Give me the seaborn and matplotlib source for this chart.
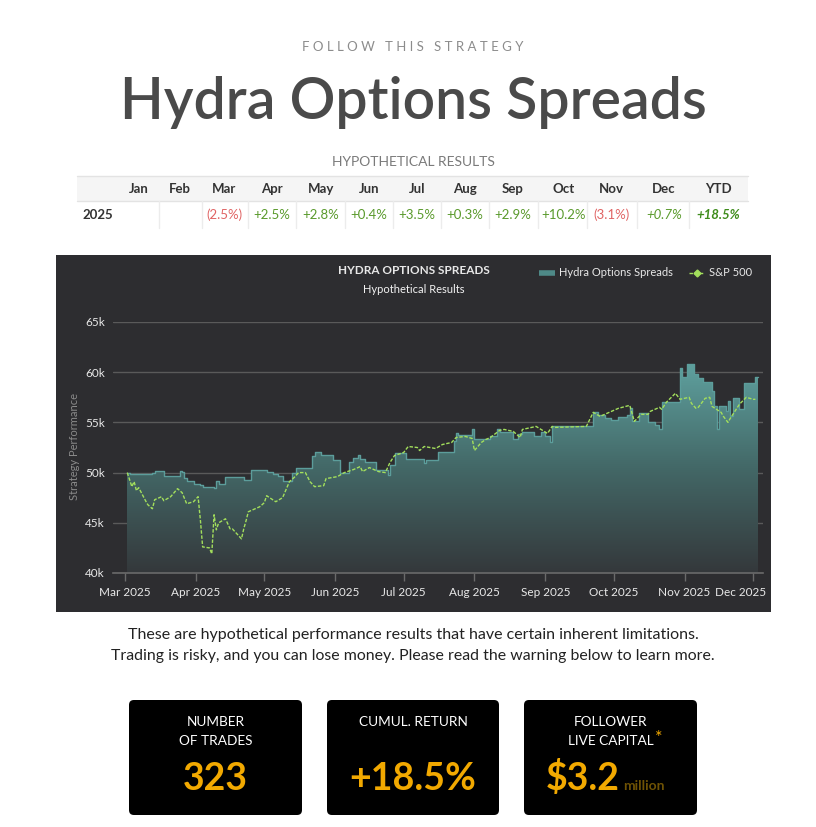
#!/usr/bin/env python3
"""
Hydra Options Spreads - strategy card (monthly table, performance chart, stat boxes)
"""

import numpy as np
import pandas as pd
import matplotlib
matplotlib.use('Agg')
import matplotlib.pyplot as plt
import matplotlib.dates as mdates
import matplotlib.transforms as mtransforms
from matplotlib.colors import LinearSegmentedColormap
from matplotlib.lines import Line2D
from matplotlib.patches import Rectangle, FancyBboxPatch
import seaborn as sns

# --- Data ---
strategy_dates = [
    '2025-03-02', '2025-03-03', '2025-03-13', '2025-03-14', '2025-03-17', '2025-03-18',
    '2025-03-25', '2025-03-26', '2025-03-27', '2025-03-28', '2025-03-31', '2025-04-03',
    '2025-04-04', '2025-04-09', '2025-04-10', '2025-04-11', '2025-04-14', '2025-04-22',
    '2025-04-25', '2025-05-02', '2025-05-05', '2025-05-07', '2025-05-09', '2025-05-13',
    '2025-05-15', '2025-05-22', '2025-05-23', '2025-05-26', '2025-05-31', '2025-06-03',
    '2025-06-07', '2025-06-09', '2025-06-11', '2025-06-12', '2025-06-14', '2025-06-19',
    '2025-06-24', '2025-06-25', '2025-06-27', '2025-07-02', '2025-07-10', '2025-07-11',
    '2025-07-16', '2025-07-23', '2025-07-24', '2025-07-25', '2025-07-31', '2025-08-01',
    '2025-08-08', '2025-08-11', '2025-08-12', '2025-08-18', '2025-08-20', '2025-08-22',
    '2025-08-27', '2025-08-30', '2025-09-01', '2025-09-03', '2025-09-04', '2025-09-22',
    '2025-09-24', '2025-09-27', '2025-09-30', '2025-10-03', '2025-10-07', '2025-10-08',
    '2025-10-09', '2025-10-12', '2025-10-16', '2025-10-19', '2025-10-21', '2025-10-22',
    '2025-10-30', '2025-10-31', '2025-11-02', '2025-11-05', '2025-11-07', '2025-11-09',
    '2025-11-13', '2025-11-14', '2025-11-15', '2025-11-16', '2025-11-19', '2025-11-20',
    '2025-11-21', '2025-11-22', '2025-11-25', '2025-11-27', '2025-12-02', '2025-12-03',
]
strategy_values = [
    50000, 49870, 49950, 50200, 50150, 49700,
    50150, 50050, 49500, 49200, 48900, 48800,
    48600, 48500, 49200, 48900, 49600, 49300,
    50300, 50100, 49900, 49700, 49200, 50000,
    50500, 51700, 52100, 51800, 51300, 50000,
    51100, 51500, 51800, 51400, 51100, 50300,
    49800, 50800, 52000, 51400, 51000, 51300,
    52100, 53100, 53900, 53700, 54300, 53300,
    53600, 54300, 54000, 53300, 53800, 54000,
    53600, 54000, 53600, 53000, 54600, 56000,
    55700, 55400, 55200, 55500, 55700, 56400,
    55100, 55900, 55000, 54700, 54300, 57000,
    60400, 59500, 60800, 59800, 59400, 59000,
    58100, 56600, 54300, 56600, 56100, 57100,
    55600, 57400, 56300, 58900, 59500, 59500,
]

spx_dates = [
    '2025-03-02', '2025-03-03', '2025-03-04', '2025-03-05', '2025-03-06', '2025-03-07',
    '2025-03-10', '2025-03-11', '2025-03-13', '2025-03-14', '2025-03-17', '2025-03-18',
    '2025-03-21', '2025-03-24', '2025-03-26', '2025-03-28', '2025-03-31', '2025-04-02',
    '2025-04-03', '2025-04-04', '2025-04-07', '2025-04-08', '2025-04-09', '2025-04-10',
    '2025-04-11', '2025-04-14', '2025-04-16', '2025-04-17', '2025-04-21', '2025-04-22',
    '2025-04-23', '2025-04-24', '2025-04-29', '2025-05-01', '2025-05-02', '2025-05-06',
    '2025-05-09', '2025-05-12', '2025-05-14', '2025-05-16', '2025-05-19', '2025-05-21',
    '2025-05-23', '2025-05-27', '2025-05-28', '2025-06-02', '2025-06-05', '2025-06-09',
    '2025-06-12', '2025-06-13', '2025-06-16', '2025-06-20', '2025-06-23', '2025-06-25',
    '2025-06-27', '2025-07-01', '2025-07-03', '2025-07-07', '2025-07-08', '2025-07-10',
    '2025-07-15', '2025-07-18', '2025-07-22', '2025-07-24', '2025-07-28', '2025-07-31',
    '2025-08-01', '2025-08-04', '2025-08-06', '2025-08-08', '2025-08-12', '2025-08-14',
    '2025-08-18', '2025-08-20', '2025-08-21', '2025-08-22', '2025-08-28', '2025-09-02',
    '2025-09-04', '2025-09-05', '2025-09-19', '2025-09-22', '2025-09-25', '2025-09-30',
    '2025-10-03', '2025-10-08', '2025-10-10', '2025-10-13', '2025-10-16', '2025-10-17',
    '2025-10-21', '2025-10-22', '2025-10-24', '2025-10-28', '2025-10-30', '2025-11-03',
    '2025-11-04', '2025-11-06', '2025-11-07', '2025-11-10', '2025-11-12', '2025-11-13',
    '2025-11-17', '2025-11-18', '2025-11-20', '2025-11-21', '2025-11-25', '2025-11-28',
    '2025-12-01', '2025-12-02',
]
spx_values = [
    50000, 49300, 48600, 49100, 48200, 48500,
    47200, 46800, 46400, 47300, 47600, 47200,
    47600, 48400, 48000, 46900, 47100, 47600,
    45300, 42600, 42500, 41900, 45800, 44300,
    45000, 45400, 44400, 44400, 43400, 44400,
    45200, 46100, 46600, 47000, 47700, 47100,
    47500, 49100, 49500, 50000, 50000, 49100,
    48600, 48700, 49400, 49600, 50000, 50300,
    50600, 50100, 50500, 50100, 50000, 51000,
    51700, 52000, 52600, 52500, 52200, 52600,
    52400, 52800, 53000, 53500, 53600, 53400,
    52200, 53000, 53300, 53500, 54200, 54300,
    54100, 53700, 53500, 54300, 54600, 53900,
    54600, 54500, 54600, 56000, 55600, 56100,
    56400, 56700, 55100, 55800, 55800, 56100,
    56500, 56300, 57000, 57900, 57300, 57500,
    56900, 56400, 56500, 57400, 57500, 56600,
    56000, 55600, 55000, 55400, 56800, 57500,
    57300, 57300,
]

months = ['Jan', 'Feb', 'Mar', 'Apr', 'May', 'Jun', 'Jul', 'Aug', 'Sep', 'Oct', 'Nov', 'Dec', 'YTD']
month_returns = ['', '', '(2.5%)', '+2.5%', '+2.8%', '+0.4%', '+3.5%', '+0.3%', '+2.9%',
                 '+10.2%', '(3.1%)', '+0.7%', '+18.5%']

stat_labels = [['NUMBER', 'OF TRADES'], ['CUMUL. RETURN'], ['FOLLOWER', 'LIVE CAPITAL']]
stat_values = ['323', '+18.5%', '$3.2']

assert len(strategy_dates) == len(strategy_values)
assert len(spx_dates) == len(spx_values)

# --- Page geometry (pixels, origin top-left) ---
W, H = 816, 827


def fx(px):
    return px / W


def fy(py):
    return 1 - py / H


sns.set_theme(style='dark')
plt.rcParams['font.family'] = ['Lato', 'DejaVu Sans']

TEAL_LINE = '#5c9d9b'
GREEN = '#a3df5c'
ORANGE = '#f2a900'
POS = '#5a9a2c'
NEG = '#e06464'

fig = plt.figure(figsize=(W / 100, H / 100), dpi=100, facecolor='white')

# --- Header ---
fig.text(fx(413), fy(51), 'F O L L O W   T H I S   S T R A T E G Y', ha='center', va='baseline',
         fontsize=9.5, color='#8c8c8c')
fig.text(fx(413), fy(119), 'Hydra Options Spreads', ha='center', va='baseline',
         fontsize=41, color='#4a4a4a', fontweight='semibold')
fig.text(fx(413), fy(166), 'HYPOTHETICAL RESULTS', ha='center', va='baseline',
         fontsize=10, color='#7a7a7a')

# --- Monthly returns table ---
fig.add_artist(Rectangle((fx(77), fy(201)), 671 / W, 25 / H, transform=fig.transFigure,
                         facecolor='#f5f5f5', edgecolor='none', zorder=0))
for yy in (176, 201):
    fig.add_artist(Line2D([fx(77), fx(748)], [fy(yy), fy(yy)], transform=fig.transFigure,
                          color='#e3e3e3', lw=1))
col_x = [139, 180, 224, 272, 321, 369, 417, 465, 513, 564, 611, 664, 718]
col_edges = [159, 202, 248, 296, 345, 393, 441, 489, 538, 587, 637, 689]
for ex in col_edges:
    fig.add_artist(Line2D([fx(ex), fx(ex)], [fy(201), fy(228)], transform=fig.transFigure,
                          color='#ececec', lw=1))
fig.text(fx(98), fy(219), '2025', ha='center', va='baseline', fontsize=9.5,
         fontweight='bold', color='#333333')
for cx, m, r in zip(col_x, months, month_returns):
    fig.text(fx(cx), fy(193), m, ha='center', va='baseline', fontsize=9.5,
             fontweight='bold', color='#333333')
    if not r:
        continue
    color = NEG if r.startswith('(') else POS
    style = 'italic' if m in ('Dec', 'YTD') else 'normal'
    weight = 'bold' if m == 'YTD' else 'normal'
    if m == 'YTD':
        color = '#3f8c1c'
    fig.text(fx(cx), fy(219), r, ha='center', va='baseline', fontsize=9.5,
             color=color, fontstyle=style, fontweight=weight)

# --- Chart panel ---
fig.add_artist(Rectangle((fx(56), fy(612)), 715 / W, 357 / H, transform=fig.transFigure,
                         facecolor='#2d2d30', edgecolor='none', zorder=-1))

ax = fig.add_axes([fx(113), fy(573), 650 / W, 251 / H])
ax.set_facecolor('none')

df_strat = pd.DataFrame({'date': pd.to_datetime(strategy_dates), 'value': strategy_values})
df_spx = pd.DataFrame({'date': pd.to_datetime(spx_dates), 'value': spx_values})
x_num = mdates.date2num(df_strat['date'])

# gradient area under the strategy curve
poly = ax.fill_between(x_num, df_strat['value'], 40000, step='post',
                       facecolor='none', edgecolor='none')
grad = np.linspace(0, 1, 256).reshape(-1, 1)
cmap = LinearSegmentedColormap.from_list('hydra', ['#34383b', '#436867', '#5fa19f'])
im = ax.imshow(grad, extent=[x_num[0], x_num[-1], 40000, 61000], origin='lower',
               aspect='auto', cmap=cmap, zorder=1, interpolation='bilinear')
im.set_clip_path(poly.get_paths()[0], transform=ax.transData)

sns.lineplot(data=df_strat, x='date', y='value', ax=ax, color=TEAL_LINE, lw=1,
             drawstyle='steps-post', zorder=3)
sns.lineplot(data=df_spx, x='date', y='value', ax=ax, color=GREEN, lw=1,
             linestyle=(0, (2.5, 1.2)), zorder=4)

ax.set_xlim(mdates.date2num(pd.Timestamp('2025-02-23 18:00')),
            mdates.date2num(pd.Timestamp('2025-12-05 08:00')))
ax.set_ylim(40000, 65000)
ax.set_yticks(range(40000, 65001, 5000))
ax.set_yticklabels([f'{v // 1000}k' for v in range(40000, 65001, 5000)])
ax.xaxis.set_major_locator(mdates.MonthLocator(bymonth=range(3, 13)))
ax.xaxis.set_major_formatter(mdates.DateFormatter('%b %Y'))
ax.grid(axis='y', color='#5a5a5a', lw=1)
ax.grid(axis='x', visible=False)
ax.tick_params(axis='x', length=6, width=1, color='#6a6a6a', labelcolor='#e8e8e8',
               labelsize=8.5, pad=4, bottom=True)
ax.tick_params(axis='y', length=0, labelcolor='#e8e8e8', labelsize=8.5, pad=6)
for side in ('top', 'right', 'left'):
    ax.spines[side].set_visible(False)
ax.spines['bottom'].set_color('#6a6a6a')
ax.spines['bottom'].set_linewidth(1.2)
ax.set_xlabel('')
ax.set_ylabel('')

# last month label is pulled inside the panel, like the original
fig.canvas.draw()
last_label = ax.get_xticklabels()[-1]
last_label.set_transform(last_label.get_transform() +
                         mtransforms.ScaledTranslation(-13 / 100, 0, fig.dpi_scale_trans))

fig.text(fx(75), fy(447), 'Strategy Performance', rotation=90, ha='center', va='center',
         fontsize=8, color='#8a8a8a')
fig.text(fx(414), fy(274), 'HYDRA OPTIONS SPREADS', ha='center', va='baseline',
         fontsize=8.5, fontweight='bold', color='#e8e8e8')
fig.text(fx(414), fy(293), 'Hypothetical Results', ha='center', va='baseline',
         fontsize=8, color='#f2f2f2')

handles = [Line2D([], [], color='#4e8987', lw=4, solid_capstyle='butt'),
           Line2D([], [], color=GREEN, lw=1, linestyle=(0, (2.5, 1.2)), marker='D', ms=3.5)]
fig.legend(handles, ['Hydra Options Spreads', 'S&P 500'], loc='center right',
           bbox_to_anchor=(fx(762), fy(273)), ncol=2, frameon=False, fontsize=8,
           labelcolor='#e8e8e8', handlelength=1.4, handletextpad=0.4, columnspacing=1.4)

# --- Disclaimer ---
fig.text(fx(413), fy(639), 'These are hypothetical performance results that have certain inherent limitations.',
         ha='center', va='baseline', fontsize=11.5, color='#222222')
fig.text(fx(413), fy(660), 'Trading is risky, and you can lose money. Please read the warning below to learn more.',
         ha='center', va='baseline', fontsize=11.4, color='#222222')

# --- Stat boxes ---
box_edges = [(129, 302), (327, 499), (524, 697)]
for (x0, x1), labels, value in zip(box_edges, stat_labels, stat_values):
    fig.add_artist(FancyBboxPatch((fx(x0), fy(815)), (x1 - x0) / W, 115 / H,
                                  boxstyle='round,pad=0,rounding_size=0.006',
                                  transform=fig.transFigure, facecolor='black', edgecolor='none'))
    cx = (x0 + x1) / 2
    for i, lab in enumerate(labels):
        fig.text(fx(cx), fy(726 + 19 * i), lab, ha='center', va='baseline',
                 fontsize=9.8, color='white')
    if value.startswith('$'):
        fig.text(fx(620), fy(790), value, ha='right', va='baseline', fontsize=27,
                 fontweight='bold', color=ORANGE)
        fig.text(fx(623), fy(790), 'million', ha='left', va='baseline', fontsize=10,
                 fontweight='bold', color='#6e5204')
        fig.text(fx(659), fy(738), '*', ha='center', va='center', fontsize=13, color=ORANGE)
    else:
        fig.text(fx(cx), fy(790), value, ha='center', va='baseline', fontsize=27,
                 fontweight='bold', color=ORANGE)

fig.savefig('out.png', dpi=100, facecolor='white')
plt.close(fig)
